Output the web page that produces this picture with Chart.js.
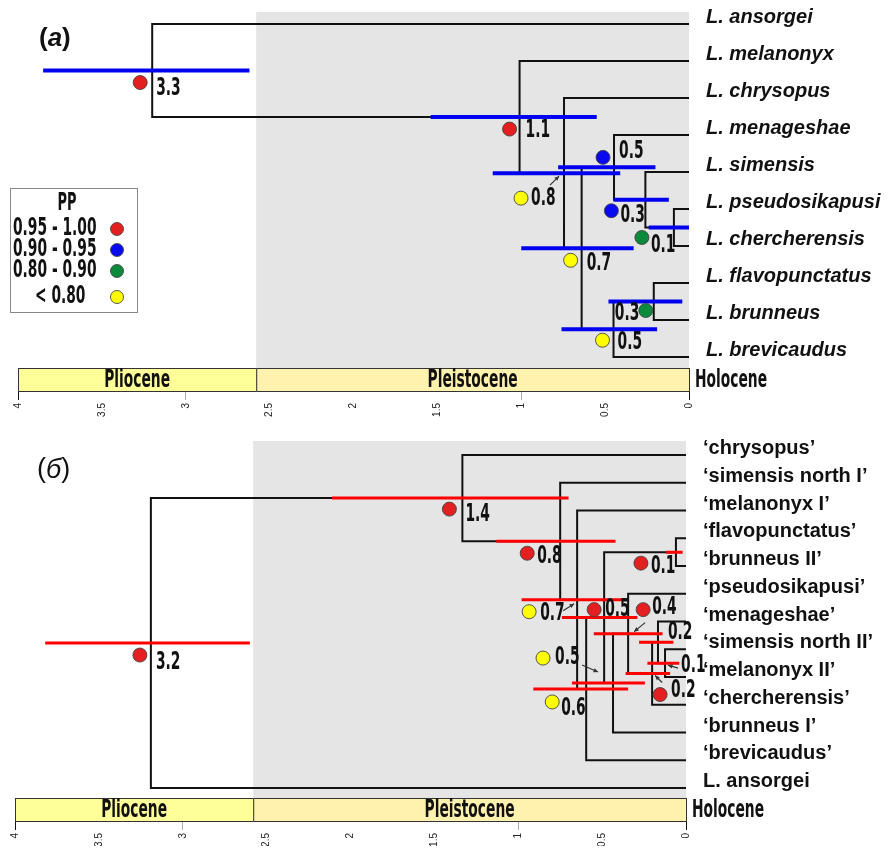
<!DOCTYPE html>
<html>
<head>
<meta charset="utf-8">
<script src="https://cdn.jsdelivr.net/npm/chart.js@4.4.1/dist/chart.umd.min.js"></script>
<style>
  body { margin: 0; background: #fff; }
  canvas { display: block; }
</style>
</head>
<body>
<canvas id="treeA" width="889" height="424"></canvas>
<canvas id="treeB" width="889" height="424"></canvas>
<script>
// ---- shared time scale (Mya) ----
const epochNames = ['Pliocene', 'Pleistocene'];
const epochFrom = [4, 2.58];
const epochTo = [2.58, 0];
const ppLabels = ['0.95 - 1.00', '0.90 - 0.95', '0.80 - 0.90', '< 0.80'];

// ---- panel (a) ----
const tipsA = ['L. ansorgei', 'L. melanonyx', 'L. chrysopus', 'L. menageshae', 'L. simensis',
  'L. pseudosikapusi', 'L. chercherensis', 'L. flavopunctatus', 'L. brunneus', 'L. brevicaudus'];
const nodeIdsA = ['r', 'n11', 'n08', 'n07', 'n05a', 'n03a', 'n01', 'n05b', 'n03b'];
const nodeKidsA = [[0, 'n11'], [1, 'n08'], [2, 'n07'], ['n05a', 'n05b'], [3, 'n03a'], [4, 'n01'], [5, 6], ['n03b', 9], [7, 8]];
const nodeAgeA = [3.20, 1.01, 0.745, 0.64, 0.447, 0.26, 0.09, 0.45, 0.21];
const hpdLowA = [3.85, 1.54, 1.17, 1.00, 0.78, 0.45, 0.24, 0.76, 0.48];
const hpdHighA = [2.62, 0.55, 0.41, 0.33, 0.20, 0.12, 0.00, 0.19, 0.04];
const ageTextA = ['3.3', '1.1', '0.8', '0.7', '0.5', '0.3', '0.1', '0.5', '0.3'];
const ppClassA = [0, 0, 3, 3, 1, 1, 2, 3, 2];

// ---- panel (б) ----
const tipsB = ['\u2018chrysopus\u2019', '\u2018simensis north I\u2019', '\u2018melanonyx I\u2019', '\u2018flavopunctatus\u2019',
  '\u2018brunneus II\u2019', '\u2018pseudosikapusi\u2019', '\u2018menageshae\u2019', '\u2018simensis north II\u2019',
  '\u2018melanonyx II\u2019', '\u2018chercherensis\u2019', '\u2018brunneus I\u2019', '\u2018brevicaudus\u2019', 'L. ansorgei'];
const nodeIdsB = ['r', 'n14', 'n08', 'n07', 'n06', 'n05r', 'n01a', 'n05y', 'n04', 'n02l', 'n02u', 'n01b'];
const nodeKidsB = [['n14', 12], [0, 'n08'], [1, 'n07'], [2, 'n06'], ['n05r', 11], ['n01a', 'n05y'], [3, 4],
  ['n04', 10], [5, 'n02l'], ['n02u', 9], [6, 'n01b'], [7, 8]];
const nodeAgeB = [3.19, 1.333, 0.75, 0.649, 0.595, 0.488, 0.06, 0.435, 0.345, 0.202, 0.167, 0.125];
const hpdLowB = [3.82, 2.11, 1.13, 0.98, 0.91, 0.74, 0.12, 0.68, 0.55, 0.36, 0.28, 0.23];
const hpdHighB = [2.60, 0.70, 0.42, 0.375, 0.345, 0.29, 0.02, 0.245, 0.14, 0.095, 0.075, 0.04];
const ageTextB = ['3.2', '1.4', '0.8', '0.7', '0.6', '0.5', '0.1', '0.5', '0.4', '0.2', '0.2', '0.1'];
const ppClassB = [0, 0, 0, 3, 3, 0, 0, 3, 0, 0, null, null];

// label placement around nodes (px): circle dx, dy, text dx, dy
const markPosA = [[-12, 12, 4, 18], [-10, 12, 6, 14], [-43, 25, -33, 26], [-11, 12, 5, 15], [-11, -10, 5, -16],
  [-34, 11, -25, 16], [-32, 10, -23, 18], [-11, 11, 4, 14], [-8, 9, -39, 12]];
const arrowPosA = [null, null, [-14, 12, -5, 3], null, null, null, null, null, null];
const markPosB = [[-11, 12, 5, 20], [-13, 11, 3, 17], [-33, 12, -23, 16], [-48, 12, -37, 14], [-34, 13, -25, 20],
  [-10, -8, 1, -8], [-35, 11, -25, 15], [-70, -25, -58, -25], [15, -24, 24, -26], [8, 21, 19, 17], [0, 0, 10, -10], [0, 0, 16, 3]];
const arrowPosB = [null, null, null, [-14, 11, -3, 4], null, null, null, [-31, -18, -15, -11], [17, -11, 6, -2],
  [10, 9, 3, 2], null, [13, 5, 3, 2]];

const ppColors = ['#e3201f', '#0a0af0', '#0b8a3c', '#ffff00'];
const epochFill = ['#ffff99', '#fff2ae'];
const NARROW = '"DejaVu Sans Condensed", "DejaVu Sans", sans-serif';
const SQUEEZE = 0.64;

function nodeRows(ids, kids) {
  const memo = {};
  const rowOf = k => {
    if (typeof k === 'number') return k;
    if (!(k in memo)) {
      const i = ids.indexOf(k);
      memo[k] = (rowOf(kids[i][0]) + rowOf(kids[i][1])) / 2;
    }
    return memo[k];
  };
  return ids.map(rowOf);
}

function branchPoints(ids, kids, ages, rows) {
  const pts = [];
  ids.forEach((id, i) => {
    kids[i].forEach(k => {
      const j = typeof k === 'number' ? -1 : ids.indexOf(k);
      const kr = j < 0 ? k : rows[j];
      const ka = j < 0 ? 0 : ages[j];
      pts.push({x: ages[i], y: rows[i]}, {x: ages[i], y: kr}, {x: ka, y: kr}, {x: null, y: null});
    });
  });
  return pts;
}

function hpdPoints(lo, hi, rows) {
  const pts = [];
  rows.forEach((r, i) => pts.push({x: lo[i], y: r}, {x: hi[i], y: r}, {x: null, y: null}));
  return pts;
}

function condText(ctx, txt, x, y, size, sx, align) {
  ctx.save();
  ctx.font = `bold ${size}px ${NARROW}`;
  ctx.textBaseline = 'middle';
  ctx.textAlign = 'left';
  const w = ctx.measureText(txt).width * sx;
  const x0 = align === 'center' ? x - w / 2 : align === 'right' ? x - w : x;
  ctx.translate(x0, y);
  ctx.scale(sx, 1);
  ctx.fillStyle = '#111';
  ctx.fillText(txt, 0, 0);
  ctx.restore();
}

function dot(ctx, x, y, r, color) {
  ctx.beginPath();
  ctx.arc(x, y, r, 0, Math.PI * 2);
  ctx.fillStyle = color;
  ctx.fill();
  ctx.lineWidth = 0.9;
  ctx.strokeStyle = '#444';
  ctx.stroke();
}

function arrow(ctx, x1, y1, x2, y2) {
  const a = Math.atan2(y2 - y1, x2 - x1);
  ctx.strokeStyle = '#333';
  ctx.fillStyle = '#333';
  ctx.lineWidth = 1.2;
  ctx.beginPath();
  ctx.moveTo(x1, y1);
  ctx.lineTo(x2, y2);
  ctx.stroke();
  ctx.beginPath();
  ctx.moveTo(x2, y2);
  ctx.lineTo(x2 - 5 * Math.cos(a - 0.45), y2 - 5 * Math.sin(a - 0.45));
  ctx.lineTo(x2 - 5 * Math.cos(a + 0.45), y2 - 5 * Math.sin(a + 0.45));
  ctx.closePath();
  ctx.fill();
}

const treeDecor = {
  id: 'treeDecor',
  beforeDatasetsDraw(chart, args, o) {
    const {ctx, chartArea: ca, scales: {x}} = chart;
    const gx = x.getPixelForValue(epochFrom[1]);
    ctx.save();
    ctx.fillStyle = '#e5e5e5';
    ctx.fillRect(gx, ca.top, x.getPixelForValue(0) - gx, ca.bottom - ca.top);
    ctx.restore();
  },
  afterDatasetsDraw(chart, args, o) {
    const {ctx, chartArea: ca, scales: {x, y}} = chart;
    ctx.save();

    // geological time bar
    const top = ca.bottom - 24;
    epochNames.forEach((name, i) => {
      const x0 = x.getPixelForValue(epochFrom[i]);
      const x1 = x.getPixelForValue(epochTo[i]);
      ctx.fillStyle = epochFill[i];
      ctx.fillRect(x0, top, x1 - x0, 24);
      ctx.strokeStyle = '#333';
      ctx.lineWidth = 1;
      ctx.strokeRect(x0 + 0.5, top + 0.5, x1 - x0, 23);
      condText(ctx, name, (x0 + x1) / 2, top + 13, 24, SQUEEZE, 'center');
    });
    condText(ctx, 'Holocene', x.getPixelForValue(0) + 6, top + 13, 24, SQUEEZE, 'left');

    // node circles, ages, arrows
    o.ages.forEach((age, i) => {
      const nx = x.getPixelForValue(age);
      const ny = y.getPixelForValue(o.rows[i]);
      const m = o.marks[i];
      if (o.pp[i] !== null) dot(ctx, nx + m[0], ny + m[1], 7, ppColors[o.pp[i]]);
      condText(ctx, o.texts[i], nx + m[2], ny + m[3], 24, SQUEEZE, 'left');
      const a = o.arrows[i];
      if (a) arrow(ctx, nx + a[0], ny + a[1], nx + a[2], ny + a[3]);
    });

    // tip names
    ctx.fillStyle = '#111';
    ctx.textBaseline = 'alphabetic';
    ctx.textAlign = 'left';
    o.tips.forEach((t, i) => {
      ctx.font = o.tipFont;
      ctx.fillText(t, x.getPixelForValue(0) + 17, y.getPixelForValue(i) - 1);
    });

    // panel letter
    ctx.textBaseline = 'middle';
    let lx = o.letterPos[0];
    ['(', o.letter, ')'].forEach((s, k) => {
      ctx.font = k === 1 ? o.letterFontIt : o.letterFont;
      ctx.fillText(s, lx, o.letterPos[1]);
      lx += ctx.measureText(s).width;
    });

    // PP legend
    if (o.legend) {
      ctx.fillStyle = '#fff';
      ctx.fillRect(10, 188, 127, 124);
      ctx.strokeStyle = '#888';
      ctx.lineWidth = 1;
      ctx.strokeRect(10.5, 188.5, 127, 124);
      condText(ctx, 'PP', 67, 204, 24, 0.6, 'center');
      const rowY = [229, 250, 271, 297];
      ppLabels.forEach((lab, i) => {
        condText(ctx, lab, i === 3 ? 35 : 13, rowY[i], 24, SQUEEZE, 'left');
        dot(ctx, 117, rowY[i], 6.5, ppColors[i]);
      });
    }
    ctx.restore();
  }
};

function makeTree(id, s) {
  const rows = nodeRows(s.ids, s.kids);
  return new Chart(document.getElementById(id), {
    type: 'scatter',
    data: {
      datasets: [
        {
          data: hpdPoints(s.lo, s.hi, rows), showLine: true, pointRadius: 0, order: 0,
          borderColor: s.barColor, borderWidth: s.barWidth, borderCapStyle: 'butt', clip: false
        },
        {
          data: branchPoints(s.ids, s.kids, s.ages, rows), showLine: true, pointRadius: 0, order: 1,
          borderColor: '#111', borderWidth: 2, borderJoinStyle: 'miter', clip: false
        }
      ]
    },
    options: {
      responsive: false,
      animation: false,
      events: [],
      layout: {padding: s.padding},
      scales: {
        x: {
          type: 'linear', min: 0, max: 4, reverse: true,
          afterFit: sc => { sc.height = s.axisH; },
          border: {display: false},
          grid: {
            drawOnChartArea: false, tickLength: 8,
            color: c => (c.tick.value === 4 || c.tick.value === 0) ? '#111'
              : (c.tick.value === 3 || c.tick.value === 1) ? '#aaa' : 'rgba(0,0,0,0)'
          },
          ticks: {
            stepSize: 0.5, minRotation: 90, maxRotation: 90, padding: 3,
            color: '#222', font: {size: 10, family: 'Liberation Sans'},
            callback: v => String(Math.round(v * 10) / 10)
          }
        },
        y: {type: 'linear', display: false, reverse: true, min: s.yMin, max: s.yMax}
      },
      plugins: {
        legend: {display: false},
        tooltip: {enabled: false},
        treeDecor: {
          ages: s.ages, rows, texts: s.texts, pp: s.pp, marks: s.marks, arrows: s.arrows,
          tips: s.tips, tipFont: s.tipFont, legend: s.legend,
          letter: s.letter, letterPos: s.letterPos, letterFont: s.letterFont, letterFontIt: s.letterFontIt
        }
      }
    },
    plugins: [treeDecor]
  });
}

makeTree('treeA', {
  ids: nodeIdsA, kids: nodeKidsA, ages: nodeAgeA, lo: hpdLowA, hi: hpdHighA,
  texts: ageTextA, pp: ppClassA, marks: markPosA, arrows: arrowPosA, tips: tipsA,
  barColor: '#0000ee', barWidth: 4,
  padding: {left: 18, right: 200, top: 12, bottom: 2}, axisH: 30,
  yMin: -0.324, yMax: 9.946,
  tipFont: 'italic bold 20px "Liberation Sans", Arial, sans-serif', legend: true,
  letter: 'a', letterPos: [39, 39],
  letterFont: 'bold 26px "Liberation Sans", Arial, sans-serif',
  letterFontIt: 'italic bold 26px "Liberation Sans", Arial, sans-serif'
});

makeTree('treeB', {
  ids: nodeIdsB, kids: nodeKidsB, ages: nodeAgeB, lo: hpdLowB, hi: hpdHighB,
  texts: ageTextB, pp: ppClassB, marks: markPosB, arrows: arrowPosB, tips: tipsB,
  barColor: '#ff0000', barWidth: 3,
  padding: {left: 15, right: 203, top: 17, bottom: 2}, axisH: 24,
  yMin: -0.5045, yMax: 13.225,
  tipFont: 'bold 20px "Liberation Sans", Arial, sans-serif', legend: false,
  letter: '\u0431', letterPos: [37, 46],
  letterFont: '27px "Liberation Sans", Arial, sans-serif',
  letterFontIt: 'italic 27px "Liberation Sans", Arial, sans-serif'
});
</script>
</body>
</html>
